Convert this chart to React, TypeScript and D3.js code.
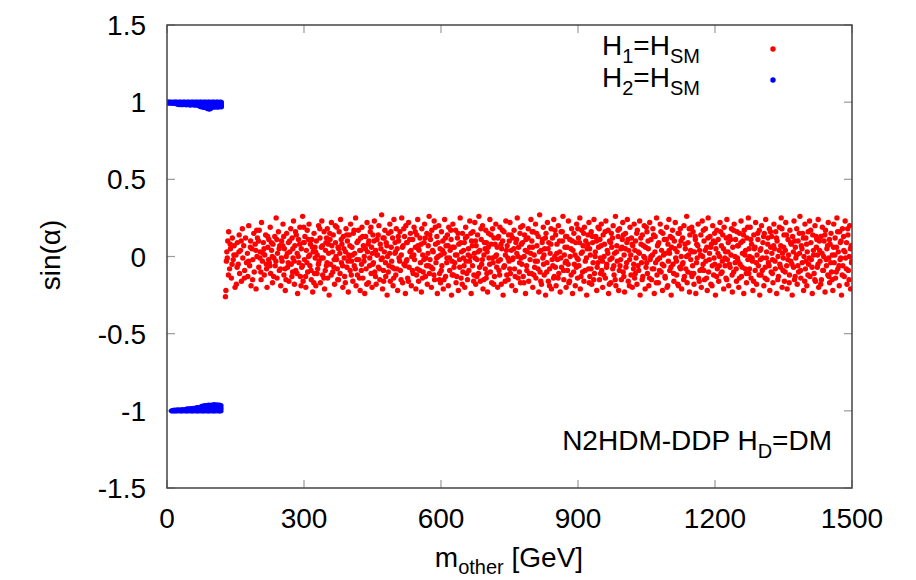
import React from "react";
import * as d3 from "d3";

// Axis ticks
const xTicks = [0, 300, 600, 900, 1200, 1500];
const yTicks = [1.5, 1, 0.5, 0, -0.5, -1, -1.5];
const yTickLabels = ["1.5", "1", "0.5", "0", "-0.5", "-1", "-1.5"];

// H2 = HSM (blue): [m_other (GeV), sin(alpha) x 1000]
const blueUpper: [number, number][] = [
  [0,999],[0,995],[3,999],[3,996],[6,1000],[6,995],[9,999],[9,994],[12,998],[12,995],[15,999],[15,993],[18,1000],[18,994],
  [21,999],[21,990],[24,998],[24,987],[27,1000],[27,992],[27,985],[30,999],[30,988],[33,998],[33,984],[36,999],[36,990],
  [39,1000],[39,986],[42,998],[42,983],[45,999],[45,989],[48,1000],[48,985],[51,998],[51,982],[54,999],[54,988],[57,1000],
  [57,984],[60,998],[60,981],[63,999],[63,987],[66,1000],[66,980],[69,998],[69,984],
  [72,999],[72,985],[72,974],[75,1000],[75,982],[75,970],[78,998],[78,986],[78,972],[81,999],[81,980],[81,966],[84,1000],
  [84,984],[84,968],[87,998],[87,978],[87,962],[90,999],[90,981],[90,958],[93,1000],[93,976],[93,955],[96,998],[96,980],
  [96,960],[99,999],[99,983],[99,968],[102,1000],[102,985],[102,971],[105,998],[105,982],[105,969],[108,999],[108,984],
  [108,972],[111,1000],[111,981],[111,968],[114,998],[114,985],[114,970],[117,999],[117,983],[117,973],[119,998],[119,982],[119,970]
];
const blueLower: [number, number][] = [
  [10,-1000],[13,-999],[16,-1000],[16,-996],[19,-999],[22,-1000],[22,-995],[25,-998],[28,-1000],[28,-994],[31,-999],
  [34,-1000],[34,-993],[37,-998],[40,-1000],[40,-992],[43,-999],[43,-990],[46,-1000],[46,-988],[49,-998],[49,-991],
  [52,-1000],[52,-986],[55,-999],[55,-989],[58,-1000],[58,-984],[61,-998],[61,-987],[64,-1000],[64,-982],[67,-999],
  [67,-980],[70,-1000],[70,-985],[73,-998],[73,-978],[76,-1000],[76,-982],[76,-972],[79,-999],[79,-984],[79,-970],
  [82,-1000],[82,-980],[82,-968],[85,-998],[85,-983],[85,-966],[88,-1000],[88,-977],[88,-969],[91,-999],[91,-981],
  [91,-964],[94,-1000],[94,-984],[94,-967],[97,-998],[97,-979],[97,-963],[100,-1000],[100,-982],[100,-968],[103,-999],
  [103,-985],[103,-961],[106,-1000],[106,-980],[106,-966],[109,-998],[109,-983],[109,-962],[112,-1000],[112,-978],
  [112,-965],[115,-999],[115,-982],[115,-963],[118,-1000],[118,-984],[118,-967]
];

// H1 = HSM (red): [m_other (GeV), sin(alpha) x 100]
const redPoints: [number, number][] = [
  [128,-26],[129,-22],[130,-3],[131,3],[132,-1],[133,10],[135,16],[137,-8],[139,5],[141,-14],[143,12],[145,-2],[147,7],[149,-20],
  [151,1],[152,-18],[154,9],[156,-5],[158,14],[159,-11],[161,4],[163,-16],[165,18],[166,-1],[168,7],[170,-9],[172,12],[174,-4],
  [176,2],[177,-13],[179,20],[181,-6],[183,10],[184,-19],[186,5],[188,-2],[190,15],[191,-10],[193,8],[195,-21],[197,0],[198,12],
  [201,-7],[202,17],[204,3],[206,-15],[207,22],[209,-3],[211,9],[213,-12],[214,1],[216,14],[218,-8],[219,-20],[221,6],[223,11],[224,-4],
  [226,19],[227,-11],[229,4],[231,-17],[232,8],[234,-1],[236,13],[237,-6],[239,25],[241,-14],[242,2],[244,16],[246,-9],[247,7],[249,-19],
  [251,10],[252,-3],[254,21],[256,-12],[257,5],[259,-22],[261,0],[262,15],[264,-7],[266,9],[267,-16],[269,3],[271,18],[272,-5],[274,12],[275,-10],
  [276,-1],[277,23],[279,-18],[280,7],[282,-9],[283,14],[285,2],[286,-24],[288,11],[289,-4],[291,19],[292,-13],[294,5],[295,-7],[297,26],[298,-16],[299,9],
  [301,-2],[302,13],[304,-20],[305,4],[307,17],[308,-10],[310,0],[311,21],[313,-6],[314,8],[316,-15],[317,11],[319,-23],[320,3],[322,15],[323,-11],[324,6],
  [326,-19],[327,10],[329,1],[330,-8],[332,20],[333,-3],[335,12],[336,-17],[338,6],[339,23],[341,-12],[342,-1],[344,16],[345,-21],[347,4],[348,9],[349,-6],
  [351,18],[352,-14],[354,2],[355,-25],[357,11],[358,-5],[360,22],[361,7],[363,-10],[364,14],[366,-2],[367,-18],[369,9],[370,0],[372,19],[373,-8],[374,-15],
  [376,5],[377,16],[379,-11],[380,24],[382,-4],[383,8],[385,-20],[386,13],[388,-1],[389,-13],[391,3],[392,18],[394,-7],[395,10],[397,-23],[398,1],[399,14],
  [401,-9],[402,21],[404,-3],[405,6],[407,-16],[408,15],[410,-6],[411,2],[413,25],[414,-19],[416,9],[417,-12],[419,17],[420,-2],[422,4],[423,-22],[424,12],
  [426,-5],[427,19],[429,-14],[430,7],[432,0],[433,-24],[435,13],[436,-8],[438,22],[439,3],[441,-17],[442,10],[444,-1],[445,16],[447,-11],[448,6],[449,-20],
  [451,14],[452,-4],[454,23],[455,-10],[457,4],[458,-18],[460,11],[461,1],[463,-7],[464,20],[466,-15],[467,8],[469,-2],[470,27],[472,-21],[473,12],[474,-9],
  [476,3],[477,17],[479,-13],[480,9],[482,-25],[483,0],[485,15],[486,-6],[488,21],[489,-16],[491,6],[492,-3],[494,12],[495,-19],[497,24],[498,-8],[499,2],
  [501,-12],[502,18],[504,5],[505,-22],[507,10],[508,-1],[510,16],[511,-9],[513,1],[514,25],[516,-17],[517,7],[519,-5],[520,13],[522,-24],[523,20],[524,-3],
  [526,9],[527,-14],[529,22],[530,-7],[532,3],[533,15],[535,-19],[536,0],[538,11],[539,-11],[541,19],[542,-2],[544,6],[545,-21],[547,14],[548,-8],[549,24],
  [551,-16],[552,4],[554,12],[555,-4],[557,-23],[558,18],[560,1],[561,-10],[563,9],[564,21],[566,-13],[567,-1],[569,15],[570,-18],[572,7],[573,-6],[574,26],
  [576,-2],[577,11],[579,-20],[580,17],[582,-8],[583,3],[585,23],[586,-15],[588,8],[589,-4],[591,13],[592,-24],[594,0],[595,20],[597,-11],[598,5],[599,-17],
  [601,16],[602,-6],[604,10],[605,-21],[607,2],[608,24],[610,-13],[611,7],[613,-1],[614,14],[616,-19],[617,19],[619,-9],[620,4],[622,11],[623,-25],[624,-3],
  [626,21],[627,-12],[629,6],[630,-4],[632,17],[633,-17],[635,1],[636,12],[638,-22],[639,8],[641,-7],[642,25],[644,-14],[645,3],[647,15],[648,-10],[649,-1],
  [651,9],[652,-20],[654,19],[655,-3],[657,13],[658,-15],[660,5],[661,-9],[663,23],[664,0],[666,-24],[667,10],[669,-6],[670,16],[672,-12],[673,2],[674,22],
  [676,-18],[677,7],[679,-2],[680,14],[682,-11],[683,26],[685,4],[686,-16],[688,11],[689,-5],[691,20],[692,-21],[694,1],[695,9],[697,-8],[698,17],[699,-14],
  [701,3],[702,-23],[704,15],[705,-1],[707,24],[708,-10],[710,8],[711,-17],[713,18],[714,-4],[716,12],[717,-13],[719,0],[720,21],[722,-7],[723,6],[724,-20],
  [726,13],[727,-9],[729,19],[730,-2],[732,-18],[733,5],[735,10],[736,-25],[738,16],[739,-6],[741,1],[742,23],[744,-12],[745,7],[747,-15],[748,14],[749,-3],
  [751,22],[752,-11],[754,4],[755,-19],[757,12],[758,-1],[760,17],[761,-8],[763,-22],[764,9],[766,2],[767,25],[769,-14],[770,6],[772,-4],[773,15],[774,-17],
  [776,8],[777,-5],[779,20],[780,-13],[782,0],[783,14],[785,-24],[786,11],[788,-9],[789,3],[791,18],[792,-16],[794,6],[795,-2],[797,24],[798,-11],[799,10],
  [801,-20],[802,16],[804,1],[805,-7],[807,21],[808,-14],[810,7],[811,-3],[813,13],[814,-23],[816,27],[817,-10],[819,4],[820,-18],[822,11],[823,-1],[824,19],
  [826,-12],[827,5],[829,-25],[830,15],[832,-4],[833,22],[835,-16],[836,9],[838,-8],[839,2],[841,18],[842,-21],[844,12],[845,-6],[847,24],[848,-13],[849,0],
  [851,14],[852,-19],[854,8],[855,-2],[857,20],[858,-11],[860,3],[861,-23],[863,16],[864,-7],[866,10],[867,26],[869,-15],[870,1],[872,-4],[873,13],[874,-20],
  [876,6],[877,-9],[879,23],[880,-17],[882,11],[883,0],[885,-12],[886,18],[888,-24],[889,4],[891,15],[892,-5],[894,-19],[895,9],[897,21],[898,-1],[899,-14],
  [901,12],[902,-6],[904,25],[905,-21],[907,2],[908,17],[910,-10],[911,7],[913,-16],[914,19],[916,-3],[917,10],[919,-25],[920,5],[922,14],[923,-8],[924,22],
  [926,-13],[927,1],[929,16],[930,-18],[932,9],[933,-4],[935,24],[936,-11],[938,3],[939,13],[941,-22],[942,-7],[944,19],[945,6],[947,-15],[948,11],[949,-1],
  [951,21],[952,-9],[954,-20],[955,14],[957,0],[958,8],[960,-14],[961,23],[963,-5],[964,4],[966,17],[967,-24],[969,10],[970,-2],[972,-17],[973,15],[974,6],
  [976,-8],[977,20],[979,-12],[980,2],[982,26],[983,-19],[985,7],[986,-3],[988,13],[989,-22],[991,18],[992,-6],[994,5],[995,-15],[997,11],[998,22],[999,-10],
  [1001,1],[1002,-23],[1004,15],[1005,-7],[1007,9],[1008,24],[1010,-16],[1011,4],[1013,-2],[1014,19],[1016,-12],[1017,12],[1019,-20],[1020,7],[1022,-5],[1023,21],[1024,-14],
  [1026,10],[1027,-1],[1029,-18],[1030,17],[1032,3],[1033,-9],[1035,23],[1036,-25],[1038,8],[1039,-4],[1041,14],[1042,-13],[1044,0],[1045,20],[1047,-21],[1048,6],[1049,-7],
  [1051,16],[1052,-11],[1054,5],[1055,-19],[1057,22],[1058,-2],[1060,11],[1061,-15],[1063,1],[1064,18],[1066,-8],[1067,-24],[1069,13],[1070,-4],[1072,25],[1073,-12],[1074,7],
  [1076,-17],[1077,9],[1079,-1],[1080,21],[1082,-10],[1083,4],[1085,-22],[1086,15],[1088,-6],[1089,11],[1091,-14],[1092,2],[1094,19],[1095,-20],[1097,8],[1098,-3],[1099,24],
  [1101,-9],[1102,13],[1104,-25],[1105,6],[1107,17],[1108,-5],[1110,-16],[1111,10],[1113,22],[1114,-1],[1116,-12],[1117,3],[1119,15],[1120,-19],[1122,7],[1123,-7],[1124,18],
  [1126,0],[1127,-21],[1129,12],[1130,-4],[1132,20],[1133,-13],[1135,5],[1136,-8],[1138,26],[1139,-17],[1141,9],[1142,1],[1144,-23],[1145,14],[1147,-2],[1148,-11],[1149,19],
  [1151,-6],[1152,16],[1154,-18],[1155,3],[1157,11],[1158,-24],[1160,8],[1161,-1],[1163,21],[1164,-14],[1166,4],[1167,-9],[1169,14],[1170,-20],[1172,23],[1173,0],[1174,-5],
  [1176,10],[1177,-15],[1179,18],[1180,-3],[1182,6],[1183,-22],[1185,25],[1186,-10],[1188,2],[1189,13],[1191,-18],[1192,8],[1194,-6],[1195,20],[1197,-12],[1198,-1],[1199,15],
  [1201,-25],[1202,5],[1204,17],[1205,-8],[1207,11],[1208,-16],[1210,0],[1211,22],[1213,-11],[1214,7],[1216,-3],[1217,14],[1219,-21],[1220,19],[1222,-6],[1223,3],[1224,-14],
  [1226,24],[1227,-2],[1229,9],[1230,-19],[1232,13],[1233,-7],[1235,1],[1236,18],[1238,-23],[1239,6],[1241,-10],[1242,21],[1244,-4],[1245,11],[1247,-16],[1248,16],[1249,-1],
  [1251,7],[1252,-20],[1254,15],[1255,-5],[1257,23],[1258,-13],[1260,2],[1261,10],[1263,-24],[1264,17],[1266,-8],[1267,4],[1269,-17],[1270,12],[1272,-2],[1273,25],[1274,-11],
  [1276,0],[1277,19],[1279,-14],[1280,8],[1282,-3],[1283,-22],[1285,14],[1286,5],[1288,-9],[1289,22],[1291,-18],[1292,1],[1294,11],[1295,-6],[1297,17],[1298,-25],[1299,4],
  [1301,-12],[1302,20],[1304,-1],[1305,9],[1307,-19],[1308,15],[1310,-7],[1311,24],[1313,3],[1314,-15],[1316,12],[1317,-4],[1319,18],[1320,-22],[1322,6],[1323,-10],[1324,13],
  [1326,-2],[1327,-17],[1329,21],[1330,5],[1332,-8],[1333,16],[1335,-24],[1336,10],[1338,0],[1339,-13],[1341,19],[1342,-5],[1344,7],[1345,25],[1347,-20],[1348,2],[1349,-9],
  [1351,14],[1352,-16],[1354,4],[1355,22],[1357,-6],[1358,-21],[1360,11],[1361,1],[1363,-12],[1364,17],[1366,-3],[1367,8],[1369,-25],[1370,13],[1372,-7],[1373,23],[1374,-15],
  [1376,6],[1377,-1],[1379,18],[1380,-18],[1382,10],[1383,-10],[1385,2],[1386,26],[1388,-14],[1389,7],[1391,-4],[1392,15],[1394,-22],[1395,0],[1397,21],[1398,-8],[1399,12],
  [1401,-19],[1402,3],[1404,16],[1405,-5],[1407,23],[1408,-13],[1410,9],[1411,-2],[1413,-24],[1414,14],[1416,1],[1417,-11],[1419,20],[1420,-16],[1422,6],[1423,11],[1424,-7],
  [1426,24],[1427,-20],[1429,4],[1430,-3],[1432,13],[1433,-15],[1435,19],[1436,-9],[1438,0],[1439,10],[1441,-23],[1442,17],[1444,-6],[1445,5],[1447,-12],[1448,22],[1449,-1],
  [1451,-17],[1452,8],[1454,15],[1455,-10],[1457,1],[1458,-22],[1460,21],[1461,-4],[1463,12],[1464,-14],[1466,6],[1467,25],[1469,-8],[1470,3],[1472,-19],[1473,16],[1474,-2],
  [1476,10],[1477,-25],[1479,18],[1480,-6],[1482,4],[1483,-13],[1485,23],[1486,-1],[1488,9],[1489,-18],[1491,14],[1492,-9],[1494,0],[1495,20],[1497,-21],[1498,7],[1499,-4]
];

// H1 = HSM (red), denser core near sin(alpha) = 0: [m_other (GeV), sin(alpha) x 100]
const redPointsCore: [number, number][] = [
  [134.5,-12],[138.5,8],[142.5,-5],[146.5,1],[153.5,-7],[157.5,3],[162.5,10],[169.5,-14],
  [178.5,-3],[182.5,6],[187.5,-15],[194.5,4],[196.5,17],
  [200.5,10],[203.5,-1],[205.5,-10],[210.5,2],[212.5,5],[217.5,-5],[220.5,13],[222.5,-2],
  [225.5,-6],[228.5,9],[230.5,0],[233.5,-13],[238.5,-3],[240.5,11],[245.5,5],[248.5,-8],
  [250.5,-1],[253.5,7],[255.5,13],[258.5,-8],[260.5,-15],[263.5,2],[265.5,-4],[268.5,10],[273.5,-13],
  [275.5,5],[278.5,-3],[281.5,16],[284.5,-11],[287.5,0],[290.5,8],[293.5,-19],[296.5,-6],[299.5,19],
  [300.5,9],[303.5,-13],[306.5,-4],[309.5,11],[312.5,1],[315.5,-9],[318.5,6],[321.5,-17],[324.5,-1],
  [325.5,3],[328.5,-11],[331.5,-5],[334.5,18],[337.5,-1],[340.5,7],[343.5,-14],[346.5,-9],[349.5,12],
  [350.5,-4],[353.5,8],[356.5,15],[359.5,-12],[362.5,3],[365.5,-7],[368.5,20],[371.5,-2],[374.5,6],
  [375.5,-15],[378.5,2],[381.5,11],[384.5,-6],[387.5,5],[390.5,-17],[393.5,14],[396.5,-3],[399.5,0],
  [400.5,7],[403.5,-12],[406.5,1],[409.5,17],[412.5,-8],[415.5,-2],[418.5,10],[421.5,-14],[424.5,4],
  [425.5,-9],[428.5,13],[431.5,-3],[434.5,5],[437.5,-18],[440.5,8],[443.5,-6],[446.5,19],[449.5,2],
  [450.5,-5],[453.5,10],[456.5,-13],[459.5,1],[462.5,14],[465.5,-8],[468.5,5],[471.5,-1],[474.5,-16],
  [475.5,12],[478.5,-4],[481.5,7],[484.5,-10],[487.5,2],[490.5,16],[493.5,-7],[496.5,-14],[499.5,9],
  [500.5,3],[503.5,-8],[506.5,13],[509.5,-3],[512.5,-15],[515.5,6],[518.5,18],[521.5,-6],[524.5,9],
  [525.5,-2],[528.5,-16],[531.5,11],[534.5,4],[537.5,-9],[540.5,1],[543.5,16],[546.5,-12],[549.5,7],
  [550.5,5],[553.5,-9],[556.5,8],[559.5,-14],[562.5,-2],[565.5,12],[568.5,-6],[571.5,2],[574.5,-11],
  [575.5,14],[578.5,-7],[581.5,4],[584.5,-12],[587.5,19],[590.5,-1],[593.5,9],[596.5,-15],[599.5,1],
  [600.5,-9],[603.5,4],[606.5,-15],[609.5,12],[612.5,-4],[615.5,7],[618.5,-1],[621.5,17],[624.5,-12],
  [625.5,6],[628.5,-7],[631.5,1],[634.5,-13],[637.5,15],[640.5,-2],[643.5,9],[646.5,-18],[649.5,4],
  [650.5,-6],[653.5,12],[656.5,-11],[659.5,1],[662.5,-3],[665.5,15],[668.5,7],[671.5,-16],[674.5,-1],
  [675.5,10],[678.5,-13],[681.5,3],[684.5,-7],[687.5,18],[690.5,-2],[693.5,-15],[696.5,5],[699.5,9],
  [700.5,-11],[703.5,6],[706.5,-5],[709.5,14],[712.5,-1],[715.5,-18],[718.5,8],[721.5,1],[724.5,12],
  [725.5,-3],[728.5,-12],[731.5,8],[734.5,17],[737.5,-7],[740.5,-16],[743.5,4],[746.5,-1],[749.5,10],
  [750.5,-8],[753.5,14],[756.5,-2],[759.5,5],[762.5,-13],[765.5,11],[768.5,0],[771.5,-10],[774.5,19],
  [775.5,-1],[778.5,9],[781.5,-17],[784.5,4],[787.5,-6],[790.5,12],[793.5,-11],[796.5,2],[799.5,16],
  [800.5,6],[803.5,-12],[806.5,-3],[809.5,15],[812.5,-8],[815.5,3],[818.5,-16],[821.5,9],[824.5,-5],
  [825.5,1],[828.5,12],[831.5,-10],[834.5,5],[837.5,-19],[840.5,8],[843.5,-2],[846.5,-14],[849.5,17],
  [850.5,-7],[853.5,2],[856.5,-14],[859.5,10],[862.5,-1],[865.5,16],[868.5,-9],[871.5,6],[874.5,-3],
  [875.5,13],[878.5,-5],[881.5,-16],[884.5,5],[887.5,10],[890.5,-10],[893.5,1],[896.5,-7],[899.5,18],
  [900.5,-2],[903.5,9],[906.5,-13],[909.5,3],[912.5,15],[915.5,-9],[918.5,-1],[921.5,8],[924.5,-17],
  [925.5,5],[928.5,-8],[931.5,13],[934.5,-15],[937.5,0],[940.5,10],[943.5,-4],[946.5,18],[949.5,-11],
  [950.5,7],[953.5,-3],[956.5,-12],[959.5,16],[962.5,-7],[965.5,2],[968.5,-18],[971.5,9],[974.5,-1],
  [975.5,12],[978.5,-6],[981.5,-15],[984.5,3],[987.5,17],[990.5,-9],[993.5,-2],[996.5,6],[999.5,14],
  [1000.5,-13],[1003.5,5],[1006.5,-4],[1009.5,11],[1012.5,-19],[1015.5,1],[1018.5,8],[1021.5,-8],[1024.5,4],
  [1025.5,-11],[1028.5,15],[1031.5,-6],[1034.5,2],[1037.5,12],[1040.5,-15],[1043.5,7],[1046.5,-1],[1049.5,19],
  [1050.5,-4],[1053.5,10],[1056.5,-14],[1059.5,0],[1062.5,-8],[1065.5,14],[1068.5,3],[1071.5,-17],[1074.5,-2],
  [1075.5,8],[1078.5,-9],[1081.5,16],[1084.5,-5],[1087.5,1],[1090.5,-13],[1093.5,11],[1096.5,-19],[1099.5,4],
  [1100.5,2],[1103.5,-7],[1106.5,12],[1109.5,-11],[1112.5,5],[1115.5,-3],[1118.5,-18],[1121.5,15],[1124.5,-8],
  [1125.5,10],[1128.5,-5],[1131.5,-15],[1134.5,8],[1137.5,0],[1140.5,-10],[1143.5,18],[1146.5,4],[1149.5,-13],
  [1150.5,3],[1153.5,-11],[1156.5,13],[1159.5,-4],[1162.5,7],[1165.5,-16],[1168.5,1],[1171.5,-8],[1174.5,17],
  [1175.5,-9],[1178.5,4],[1181.5,-14],[1184.5,12],[1187.5,-2],[1190.5,6],[1193.5,-19],[1196.5,10],[1199.5,-5],
  [1200.5,9],[1203.5,-13],[1206.5,2],[1209.5,-6],[1212.5,16],[1215.5,-10],[1218.5,5],[1221.5,-1],[1224.5,12],
  [1225.5,-15],[1228.5,3],[1231.5,-5],[1234.5,11],[1237.5,-12],[1240.5,17],[1243.5,0],[1246.5,-8],[1249.5,7],
  [1250.5,-3],[1253.5,-14],[1256.5,9],[1259.5,-7],[1262.5,14],[1265.5,1],[1268.5,-11],[1271.5,19],[1274.5,5],
  [1275.5,-8],[1278.5,11],[1281.5,-1],[1284.5,-16],[1287.5,6],[1290.5,-4],[1293.5,15],[1296.5,-12],[1299.5,-2],
  [1300.5,5],[1303.5,-9],[1306.5,13],[1309.5,-14],[1312.5,-1],[1315.5,8],[1318.5,-6],[1321.5,16],[1324.5,2],
  [1325.5,-11],[1328.5,7],[1331.5,-3],[1334.5,12],[1337.5,-15],[1340.5,4],[1343.5,-7],[1346.5,18],[1349.5,-1],
  [1350.5,6],[1353.5,-10],[1356.5,14],[1359.5,-2],[1362.5,-17],[1365.5,9],[1368.5,-5],[1371.5,3],[1374.5,10],
  [1375.5,-13],[1378.5,1],[1381.5,-6],[1384.5,15],[1387.5,-9],[1390.5,5],[1393.5,12],[1396.5,-16],[1399.5,-3],
  [1400.5,8],[1403.5,-12],[1406.5,-1],[1409.5,17],[1412.5,-7],[1415.5,4],[1418.5,-15],[1421.5,13],[1424.5,1],
  [1425.5,-5],[1428.5,10],[1431.5,-18],[1434.5,2],[1437.5,-9],[1440.5,14],[1443.5,-2],[1446.5,7],[1449.5,-13],
  [1450.5,11],[1453.5,-4],[1456.5,-15],[1459.5,6],[1462.5,1],[1465.5,-10],[1468.5,16],[1471.5,-6],[1474.5,9],
  [1475.5,-1],[1478.5,-12],[1481.5,13],[1484.5,3],[1487.5,-8],[1490.5,18],[1493.5,-15],[1496.5,5],[1499.5,-3]
];

const FONT = "'Liberation Sans', Arial, Helvetica, sans-serif";

export default function App() {
  const W = 916, H = 580;
  const x0 = 167, x1 = 852, y0 = 25, y1 = 488;
  const x = d3.scaleLinear().domain([0, 1500]).range([x0, x1]);
  const y = d3.scaleLinear().domain([-1.5, 1.5]).range([y1, y0]);
  const r = 2.7;
  const tickLen = 8;
  const tickColor = "#9a9a9a";
  const frameColor = "#444";
  const allRed = [...redPoints, ...redPointsCore];

  return (
    <svg width={W} height={H} style={{ position: "absolute", left: 0, top: 0, background: "#fff" }} fontFamily={FONT}>
      <defs>
        <clipPath id="plotClip">
          <rect x={x0} y={y0} width={x1 - x0} height={y1 - y0} />
        </clipPath>
      </defs>
      <rect x={0} y={0} width={W} height={H} fill="#fff" />

      {/* ticks */}
      {xTicks.map((t) => (
        <g key={"xt" + t}>
          <line x1={x(t)} x2={x(t)} y1={y1} y2={y1 - tickLen} stroke={tickColor} strokeWidth={1.2} />
          <line x1={x(t)} x2={x(t)} y1={y0} y2={y0 + tickLen} stroke={tickColor} strokeWidth={1.2} />
          <text x={x(t)} y={528} textAnchor="middle" fontSize={28} fill="#000">{t}</text>
        </g>
      ))}
      {yTicks.map((t, i) => (
        <g key={"yt" + t}>
          <line x1={x0} x2={x0 + tickLen} y1={y(t)} y2={y(t)} stroke={tickColor} strokeWidth={1.2} />
          <line x1={x1} x2={x1 - tickLen} y1={y(t)} y2={y(t)} stroke={tickColor} strokeWidth={1.2} />
          <text x={146} y={y(t) + 10} textAnchor="end" fontSize={28} fill="#000">{yTickLabels[i]}</text>
        </g>
      ))}

      {/* points */}
      <g clipPath="url(#plotClip)">
        {allRed.map(([m, s], i) => (
          <circle key={"r" + i} cx={x(m)} cy={y(s / 100)} r={r} fill="#ff0000" />
        ))}
        {blueUpper.map(([m, s], i) => (
          <circle key={"bu" + i} cx={x(m)} cy={y(s / 1000)} r={r} fill="#0000ff" />
        ))}
        {blueLower.map(([m, s], i) => (
          <circle key={"bl" + i} cx={x(m)} cy={y(s / 1000)} r={r} fill="#0000ff" />
        ))}
      </g>

      {/* frame */}
      <rect x={x0} y={y0} width={x1 - x0} height={y1 - y0} fill="none" stroke={frameColor} strokeWidth={1.5} />

      {/* legend */}
      <text x={602} y={55} fontSize={28} fill="#000">
        H<tspan fontSize={20} dy={8}>1</tspan><tspan dy={-8}>=H</tspan><tspan fontSize={20} dy={8}>SM</tspan>
      </text>
      <circle cx={773} cy={49} r={r} fill="#ff0000" />
      <text x={602} y={87} fontSize={28} fill="#000">
        H<tspan fontSize={20} dy={8}>2</tspan><tspan dy={-8}>=H</tspan><tspan fontSize={20} dy={8}>SM</tspan>
      </text>
      <circle cx={773} cy={80} r={r} fill="#0000ff" />

      {/* annotation */}
      <text x={832} y={450} textAnchor="end" fontSize={28} fill="#000">
        N2HDM-DDP H<tspan fontSize={20} dy={8}>D</tspan><tspan dy={-8}>=DM</tspan>
      </text>

      {/* axis labels */}
      <text x={509} y={567} textAnchor="middle" fontSize={28} fill="#000">
        m<tspan fontSize={20} dy={7}>other</tspan><tspan dy={-7}> [GeV]</tspan>
      </text>
      <text transform={`translate(60, 255) rotate(-90)`} textAnchor="middle" fontSize={28} fill="#000">sin(α)</text>
    </svg>
  );
}
